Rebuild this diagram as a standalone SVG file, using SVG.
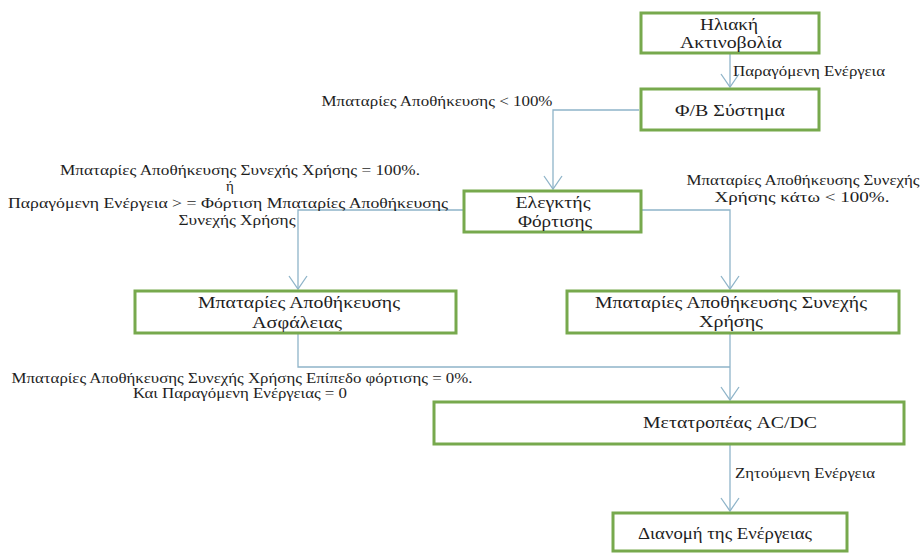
<svg xmlns="http://www.w3.org/2000/svg" width="922" height="553" viewBox="0 0 922 553">
<defs>
<style>
.box{fill:#ffffff;stroke:#77a94d;stroke-width:3}
.conn{fill:none;stroke:#8fb4c9;stroke-width:1.3}
text{font-family:"Liberation Serif","DejaVu Serif","Times New Roman",serif;fill:#1e1e1e}
.nt{font-size:16.5px;text-anchor:middle}
.lt{font-size:15px;text-anchor:middle}
.ls{font-size:15px;text-anchor:start}
</style>
<marker id="arr" viewBox="-14 -10 16 20" refX="0" refY="0" markerWidth="16" markerHeight="20" markerUnits="userSpaceOnUse" orient="auto">
<path d="M-13,-9 L0,0 L-13,9" fill="none" stroke="#8fb4c9" stroke-width="1.3"/>
</marker>
</defs>
<rect width="922" height="553" fill="#ffffff"/>

<g id="connectors">
<path class="conn" d="M730,54 V87" marker-end="url(#arr)"/>
<path class="conn" d="M639,110 H553 V189" marker-end="url(#arr)"/>
<path class="conn" d="M463,210 H298 V289" marker-end="url(#arr)"/>
<path class="conn" d="M641,210 H730 V289" marker-end="url(#arr)"/>
<path class="conn" d="M298,334 V367 H730"/>
<path class="conn" d="M730,334 V400" marker-end="url(#arr)"/>
<path class="conn" d="M730,445 V511" marker-end="url(#arr)"/>
</g>

<g id="labels">
<text class="ls" x="733" y="76" textLength="152" lengthAdjust="spacingAndGlyphs">Παραγόμενη Ενέργεια</text>
<text class="lt" x="437" y="106" textLength="231" lengthAdjust="spacingAndGlyphs">Μπαταρίες Αποθήκευσης &lt; 100%</text>
<text class="lt" x="240" y="175" textLength="360" lengthAdjust="spacingAndGlyphs">Μπαταρίες Αποθήκευσης Συνεχής Χρήσης = 100%.</text>
<text class="lt" x="230" y="191">ή</text>
<text class="lt" x="228" y="208" textLength="440" lengthAdjust="spacingAndGlyphs">Παραγόμενη Ενέργεια &gt; = Φόρτιση Μπαταρίες Αποθήκευσης</text>
<text class="lt" x="237" y="225" textLength="117" lengthAdjust="spacingAndGlyphs">Συνεχής Χρήσης</text>
<text class="lt" x="803" y="185" textLength="233" lengthAdjust="spacingAndGlyphs">Μπαταρίες Αποθήκευσης Συνεχής</text>
<text class="lt" x="802" y="202" textLength="175" lengthAdjust="spacingAndGlyphs">Χρήσης κάτω &lt; 100%.</text>
<text class="lt" x="242" y="383" textLength="461" lengthAdjust="spacingAndGlyphs">Μπαταρίες Αποθήκευσης Συνεχής Χρήσης Επίπεδο φόρτισης = 0%.</text>
<text class="lt" x="240" y="398" textLength="214" lengthAdjust="spacingAndGlyphs">Και Παραγόμενη Ενέργειας = 0</text>
<text class="ls" x="735" y="478" textLength="140" lengthAdjust="spacingAndGlyphs">Ζητούμενη Ενέργεια</text>
</g>

<g id="node-solar">
<rect class="box" x="641" y="13" width="178" height="40"/>
<text class="nt" x="729" y="30" textLength="58" lengthAdjust="spacingAndGlyphs">Ηλιακή</text>
<text class="nt" x="731" y="48" textLength="102" lengthAdjust="spacingAndGlyphs">Ακτινοβολία</text>
</g>

<g id="node-pv">
<rect class="box" x="641" y="89" width="178" height="41"/>
<text class="nt" x="730" y="116" textLength="110" lengthAdjust="spacingAndGlyphs">Φ/Β Σύστημα</text>
</g>

<g id="node-controller">
<rect class="box" x="464" y="191" width="177" height="41"/>
<text class="nt" x="553" y="208" textLength="75" lengthAdjust="spacingAndGlyphs">Ελεγκτής</text>
<text class="nt" x="555" y="227" textLength="74" lengthAdjust="spacingAndGlyphs">Φόρτισης</text>
</g>

<g id="node-safety">
<rect class="box" x="135" y="291" width="321" height="42"/>
<text class="nt" x="299" y="308" textLength="202" lengthAdjust="spacingAndGlyphs">Μπαταρίες Αποθήκευσης</text>
<text class="nt" x="297" y="328" textLength="90" lengthAdjust="spacingAndGlyphs">Ασφάλειας</text>
</g>

<g id="node-continuous">
<rect class="box" x="567" y="291" width="332" height="42"/>
<text class="nt" x="731" y="308" textLength="272" lengthAdjust="spacingAndGlyphs">Μπαταρίες Αποθήκευσης Συνεχής</text>
<text class="nt" x="731" y="327" textLength="64" lengthAdjust="spacingAndGlyphs">Χρήσης</text>
</g>

<g id="node-converter">
<rect class="box" x="434" y="402" width="470" height="42"/>
<text class="nt" x="730" y="428" textLength="174" lengthAdjust="spacingAndGlyphs">Μετατροπέας AC/DC</text>
</g>

<g id="node-distribution">
<rect class="box" x="613" y="513" width="234" height="38"/>
<text class="nt" x="725" y="539" textLength="174" lengthAdjust="spacingAndGlyphs">Διανομή της Ενέργειας</text>
</g>
</svg>
